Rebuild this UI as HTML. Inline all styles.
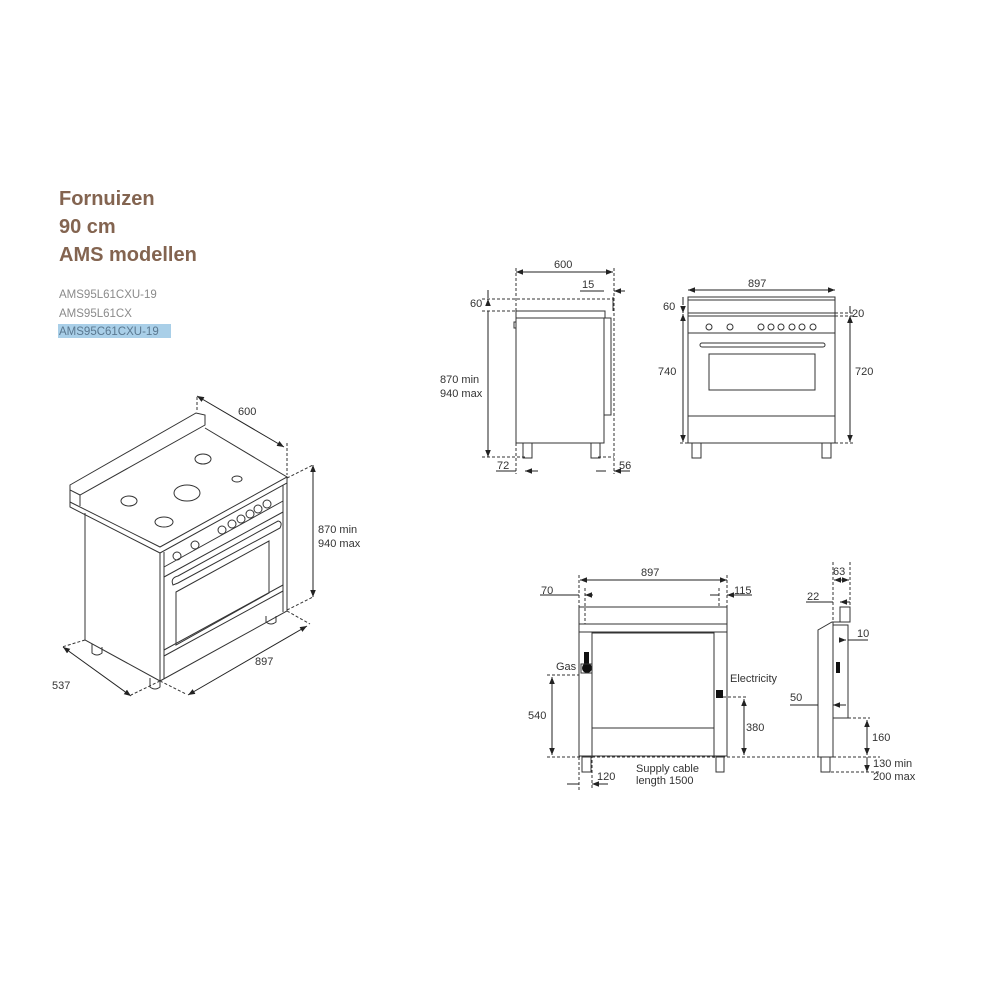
<!DOCTYPE html>
<html><head><meta charset="utf-8"><style>
html,body{margin:0;padding:0;background:#fff;}
svg{display:block;}
text{font-family:"Liberation Sans",sans-serif;}
</style></head><body>
<svg width="1000" height="1000" viewBox="0 0 1000 1000" xmlns="http://www.w3.org/2000/svg">
<defs>
<marker id="a" viewBox="0 0 10 10" refX="10" refY="5" markerWidth="7" markerHeight="7" orient="auto-start-reverse"><path d="M0,1 L10,5 L0,9 z" fill="#222"/></marker>
</defs>
<rect width="1000" height="1000" fill="#fff"/>
<g fill="#836450" font-weight="bold" font-size="20">
<text x="59" y="205">Fornuizen</text>
<text x="59" y="233">90 cm</text>
<text x="59" y="261">AMS modellen</text>
</g>
<rect x="58" y="324" width="113" height="14" fill="#a9cfe8"/>
<g fill="#8a8a8a" font-size="11.5">
<text x="59" y="298">AMS95L61CXU-19</text>
<text x="59" y="317">AMS95L61CX</text>
<text x="59" y="335" fill="#5a7890">AMS95C61CXU-19</text>
</g>

<g stroke="#333" stroke-width="1" fill="none">
<path d="M70,485 L196,413 L205,415 L205,425 L80,495 L70,490 Z M70,490 L70,502 M80,495 L80,506"/>
<path d="M70,502 L160,547 L287,477 L205,428"/>
<path d="M70,502 L70,507 L160,553 L287,483 L287,477"/>
<path d="M85,513 L85,640 L160,681 L287,611 L287,483"/>
<path d="M160,553 L160,681 M164,552 L164,679"/>
<path d="M283,485 L283,612"/>
<path d="M164,567 L283,501 M164,577 L283,512"/>
<path d="M173,585 Q170,578 178,576 L278,521 Q283,522 280,528 L178,583 Z"/>
<path d="M176,592 L269,541 L269,593 L176,645 Z"/>
<path d="M164,650 L283,585 M164,656 L283,591"/>
<ellipse cx="177" cy="556" rx="4" ry="4"/><ellipse cx="195" cy="545" rx="4" ry="4"/>
<ellipse cx="222" cy="530" rx="4" ry="4"/><ellipse cx="232" cy="524" rx="4" ry="4"/><ellipse cx="241" cy="519" rx="4" ry="4"/><ellipse cx="250" cy="514" rx="4" ry="4"/><ellipse cx="258" cy="509" rx="4" ry="4"/><ellipse cx="267" cy="504" rx="4" ry="4"/>
<ellipse cx="203" cy="459" rx="8" ry="5"/><ellipse cx="187" cy="493" rx="13" ry="8"/><ellipse cx="129" cy="501" rx="8" ry="5"/><ellipse cx="164" cy="522" rx="9" ry="5"/><ellipse cx="237" cy="479" rx="5" ry="3"/>
<path d="M92,644 L92,653 Q97,657 102,653 L102,647"/>
<path d="M150,678 L150,687 Q155,691 160,687 L160,682"/>
<path d="M266,616 L266,622 Q271,626 276,622 L276,616"/>
</g>
<g stroke="#333" stroke-width="1" fill="none" stroke-dasharray="3,2">
<path d="M197,397 L197,412 M287,443 L287,475 M287,478 L313,465 M287,610 L313,597 M287,611 L310,624 M160,681 L186,694 M85,640 L62,647 M160,681 L131,695"/>
</g>
<g stroke="#222" stroke-width="1" fill="none" marker-start="url(#a)" marker-end="url(#a)">
<line x1="197" y1="396" x2="284" y2="447"/>
<line x1="313" y1="465" x2="313" y2="597"/>
<line x1="188" y1="695" x2="307" y2="626"/>
<line x1="63" y1="647" x2="131" y2="696"/>
</g>
<g fill="#333" font-size="11">
<text x="238" y="415">600</text>
<text x="318" y="533">870 min</text>
<text x="318" y="547">940 max</text>
<text x="255" y="665">897</text>
<text x="52" y="689">537</text>
</g>

<g stroke="#333" stroke-width="1" fill="none">
<rect x="516" y="311" width="89" height="7"/>
<path d="M516,318 L516,443 L604,443 L604,318"/>
<path d="M604,318 L611,318 L611,415 L604,415"/>
<rect x="514" y="322" width="2" height="6"/>
<rect x="523" y="443" width="9" height="15"/>
<rect x="591" y="443" width="9" height="15"/>
<path d="M613,297 L613,311"/>
<rect x="688" y="297" width="147" height="3"/>
<path d="M688,300 L688,443 L835,443 L835,300"/>
<path d="M688,313 L835,313 M688,316 L835,316 M688,333 L835,333 M688,416 L835,416"/>
<circle cx="709" cy="327" r="3"/><circle cx="730" cy="327" r="3"/>
<circle cx="761" cy="327" r="3"/><circle cx="771" cy="327" r="3"/><circle cx="781" cy="327" r="3"/><circle cx="792" cy="327" r="3"/><circle cx="802" cy="327" r="3"/><circle cx="813" cy="327" r="3"/>
<rect x="700" y="343" width="125" height="4" rx="2"/>
<rect x="709" y="354" width="106" height="36"/>
<rect x="692" y="443" width="9" height="15"/>
<rect x="822" y="443" width="9" height="15"/>
<rect x="579" y="607" width="148" height="17"/>
<path d="M579,624 L579,756 L727,756 L727,624 M579,632 L727,632"/>
<path d="M592,758 L592,633 L714,633 L714,758"/>
<path d="M592,728 L714,728"/>
<rect x="582" y="757" width="9" height="15"/><rect x="716" y="757" width="8" height="15"/>
<path d="M818,757 L818,630 L832,622 L850,622 L850,607 L840,607 L840,622"/>
<path d="M833,622 L833,757 L818,757 M833,625 L848,625 L848,718 L833,718"/>
<rect x="821" y="757" width="9" height="15"/>
</g>
<g fill="#111">
<rect x="584" y="652" width="5" height="14"/><circle cx="587" cy="668" r="5"/>
<rect x="716" y="690" width="7" height="8"/>
<rect x="836" y="662" width="4" height="11"/>
</g>
<rect x="581" y="664" width="11" height="9" fill="none" stroke="#333"/>
<g stroke="#333" stroke-width="1" fill="none" stroke-dasharray="3,2">
<path d="M516,268 L516,474 M614,268 L614,474 M482,299 L614,299 M482,311 L516,311 M482,457 L525,457 M598,457 L614,457"/>
<path d="M680,443 L688,443 M835,443 L855,443 M835,316 L855,316 M835,313 L855,313"/>
<path d="M579,575 L579,624 M727,575 L727,607 M585,588 L585,624 M719,588 L719,607 M547,675 L579,675 M547,757 L823,757 M723,697 L748,697 M579,757 L579,790 M592,760 L592,790"/>
<path d="M833,562 L833,622 M850,562 L850,607 M818,757 L880,757 M833,718 L870,718 M826,772 L880,772"/>
</g>
<g stroke="#222" stroke-width="1" fill="none" marker-start="url(#a)" marker-end="url(#a)">
<line x1="516" y1="272" x2="613" y2="272"/>
<line x1="688" y1="290" x2="835" y2="290"/>
<line x1="580" y1="580" x2="727" y2="580"/>
<line x1="683" y1="314" x2="683" y2="442"/>
<line x1="850" y1="316" x2="850" y2="442"/>
<line x1="552" y1="677" x2="552" y2="755"/>
<line x1="744" y1="699" x2="744" y2="755"/>
<line x1="867" y1="720" x2="867" y2="755"/>
<line x1="834" y1="580" x2="849" y2="580"/>
</g>
<g stroke="#222" stroke-width="1" fill="none" marker-end="url(#a)">
<path d="M488,290 L488,298 M488,320 L488,311 M488,305 L488,299"/>
<path d="M488,311 L488,457"/>
<path d="M580,291 L604,291 M625,291 L614,291"/>
<path d="M496,471 L516,471 M538,471 L525,471"/>
<path d="M596,471 L606,471 M630,471 L614,471"/>
<path d="M683,305 L683,297 M683,306 L683,313"/>
<path d="M850,306 L850,313 M850,323 L850,316"/>
<path d="M540,595 L579,595 M593,595 L585,595"/>
<path d="M710,595 L719,595 M752,595 L727,595"/>
<path d="M567,784 L579,784 M608,784 L592,784"/>
<path d="M806,602 L833,602 M850,602 L840,602"/>
<path d="M868,640 L848,640 M840,640 L846,640"/>
<path d="M790,705 L818,705 M846,705 L833,705"/>
<path d="M867,765 L867,757 M867,765 L867,772"/>
</g>
<g fill="#333" font-size="11">
<text x="554" y="268">600</text>
<text x="582" y="288">15</text>
<text x="470" y="307">60</text>
<text x="440" y="383">870 min</text>
<text x="440" y="397">940 max</text>
<text x="497" y="469">72</text>
<text x="619" y="469">56</text>
<text x="748" y="287">897</text>
<text x="663" y="310">60</text>
<text x="852" y="317">20</text>
<text x="658" y="375">740</text>
<text x="855" y="375">720</text>
<text x="641" y="576">897</text>
<text x="541" y="594">70</text>
<text x="734" y="594">115</text>
<text x="556" y="670">Gas</text>
<text x="730" y="682">Electricity</text>
<text x="528" y="719">540</text>
<text x="746" y="731">380</text>
<text x="597" y="780">120</text>
<text x="636" y="772">Supply cable</text>
<text x="636" y="784">length 1500</text>
<text x="833" y="575">63</text>
<text x="807" y="600">22</text>
<text x="857" y="637">10</text>
<text x="790" y="701">50</text>
<text x="872" y="741">160</text>
<text x="873" y="767">130 min</text>
<text x="873" y="780">200 max</text>
</g>
</svg>
</body></html>
